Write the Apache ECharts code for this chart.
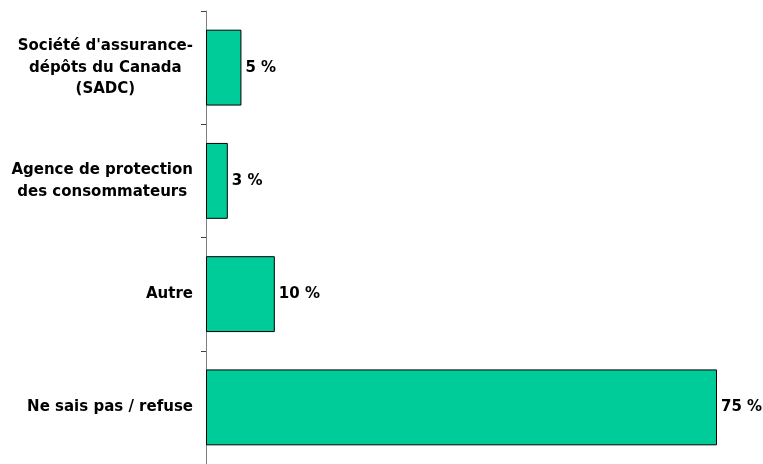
<!DOCTYPE html>
<html><head><meta charset="utf-8">
<script src="https://cdn.jsdelivr.net/npm/echarts@6/dist/echarts.min.js"></script>
<style>html,body{margin:0;padding:0;background:#fff}#c{width:763px;height:464px}</style>
</head><body><div id="c"></div>
<script>
const categories = ["Société d'assurance-\ndépôts du Canada\n(SADC)", "Agence de protection\ndes consommateurs", "Autre", "Ne sais pas / refuse"];
const values = [5.2, 3.2, 10.1, 75];
const chart = echarts.init(document.getElementById('c'));
const font = 'DejaVu Sans, sans-serif';
const fs = 15;
chart.setOption({
  animation: false,
  grid: { left: 206, right: 46, top: 11, bottom: -4, containLabel: false },
  xAxis: { type: 'value', min: 0, max: 75, show: false },
  yAxis: {
    type: 'category', inverse: true, data: categories,
    axisLine: { show: true, lineStyle: { color: '#808080', width: 1 } },
    axisTick: { show: true, length: 5, lineStyle: { color: '#404040' } },
    axisLabel: {
      margin: 13, align: 'right', color: '#000', fontFamily: font, fontWeight: 'bold', fontSize: fs,
      lineHeight: 21.5,
      formatter: v => v.split('\n').map(l => '{c|' + l + '}').join('\n'),
      rich: { c: { align: 'center', fontFamily: font, fontWeight: 'bold', fontSize: fs, lineHeight: 21.5, color: '#000' } }
    }
  },
  series: [{
    type: 'bar', data: values, barCategoryGap: '33%',
    itemStyle: { color: '#00CC99', borderColor: '#000', borderWidth: 1 },
    label: { show: true, position: 'right', distance: 4, color: '#000', fontFamily: font, fontWeight: 'bold', fontSize: fs,
      formatter: p => Math.round(p.value) + ' %' }
  }]
});
</script></body></html>
